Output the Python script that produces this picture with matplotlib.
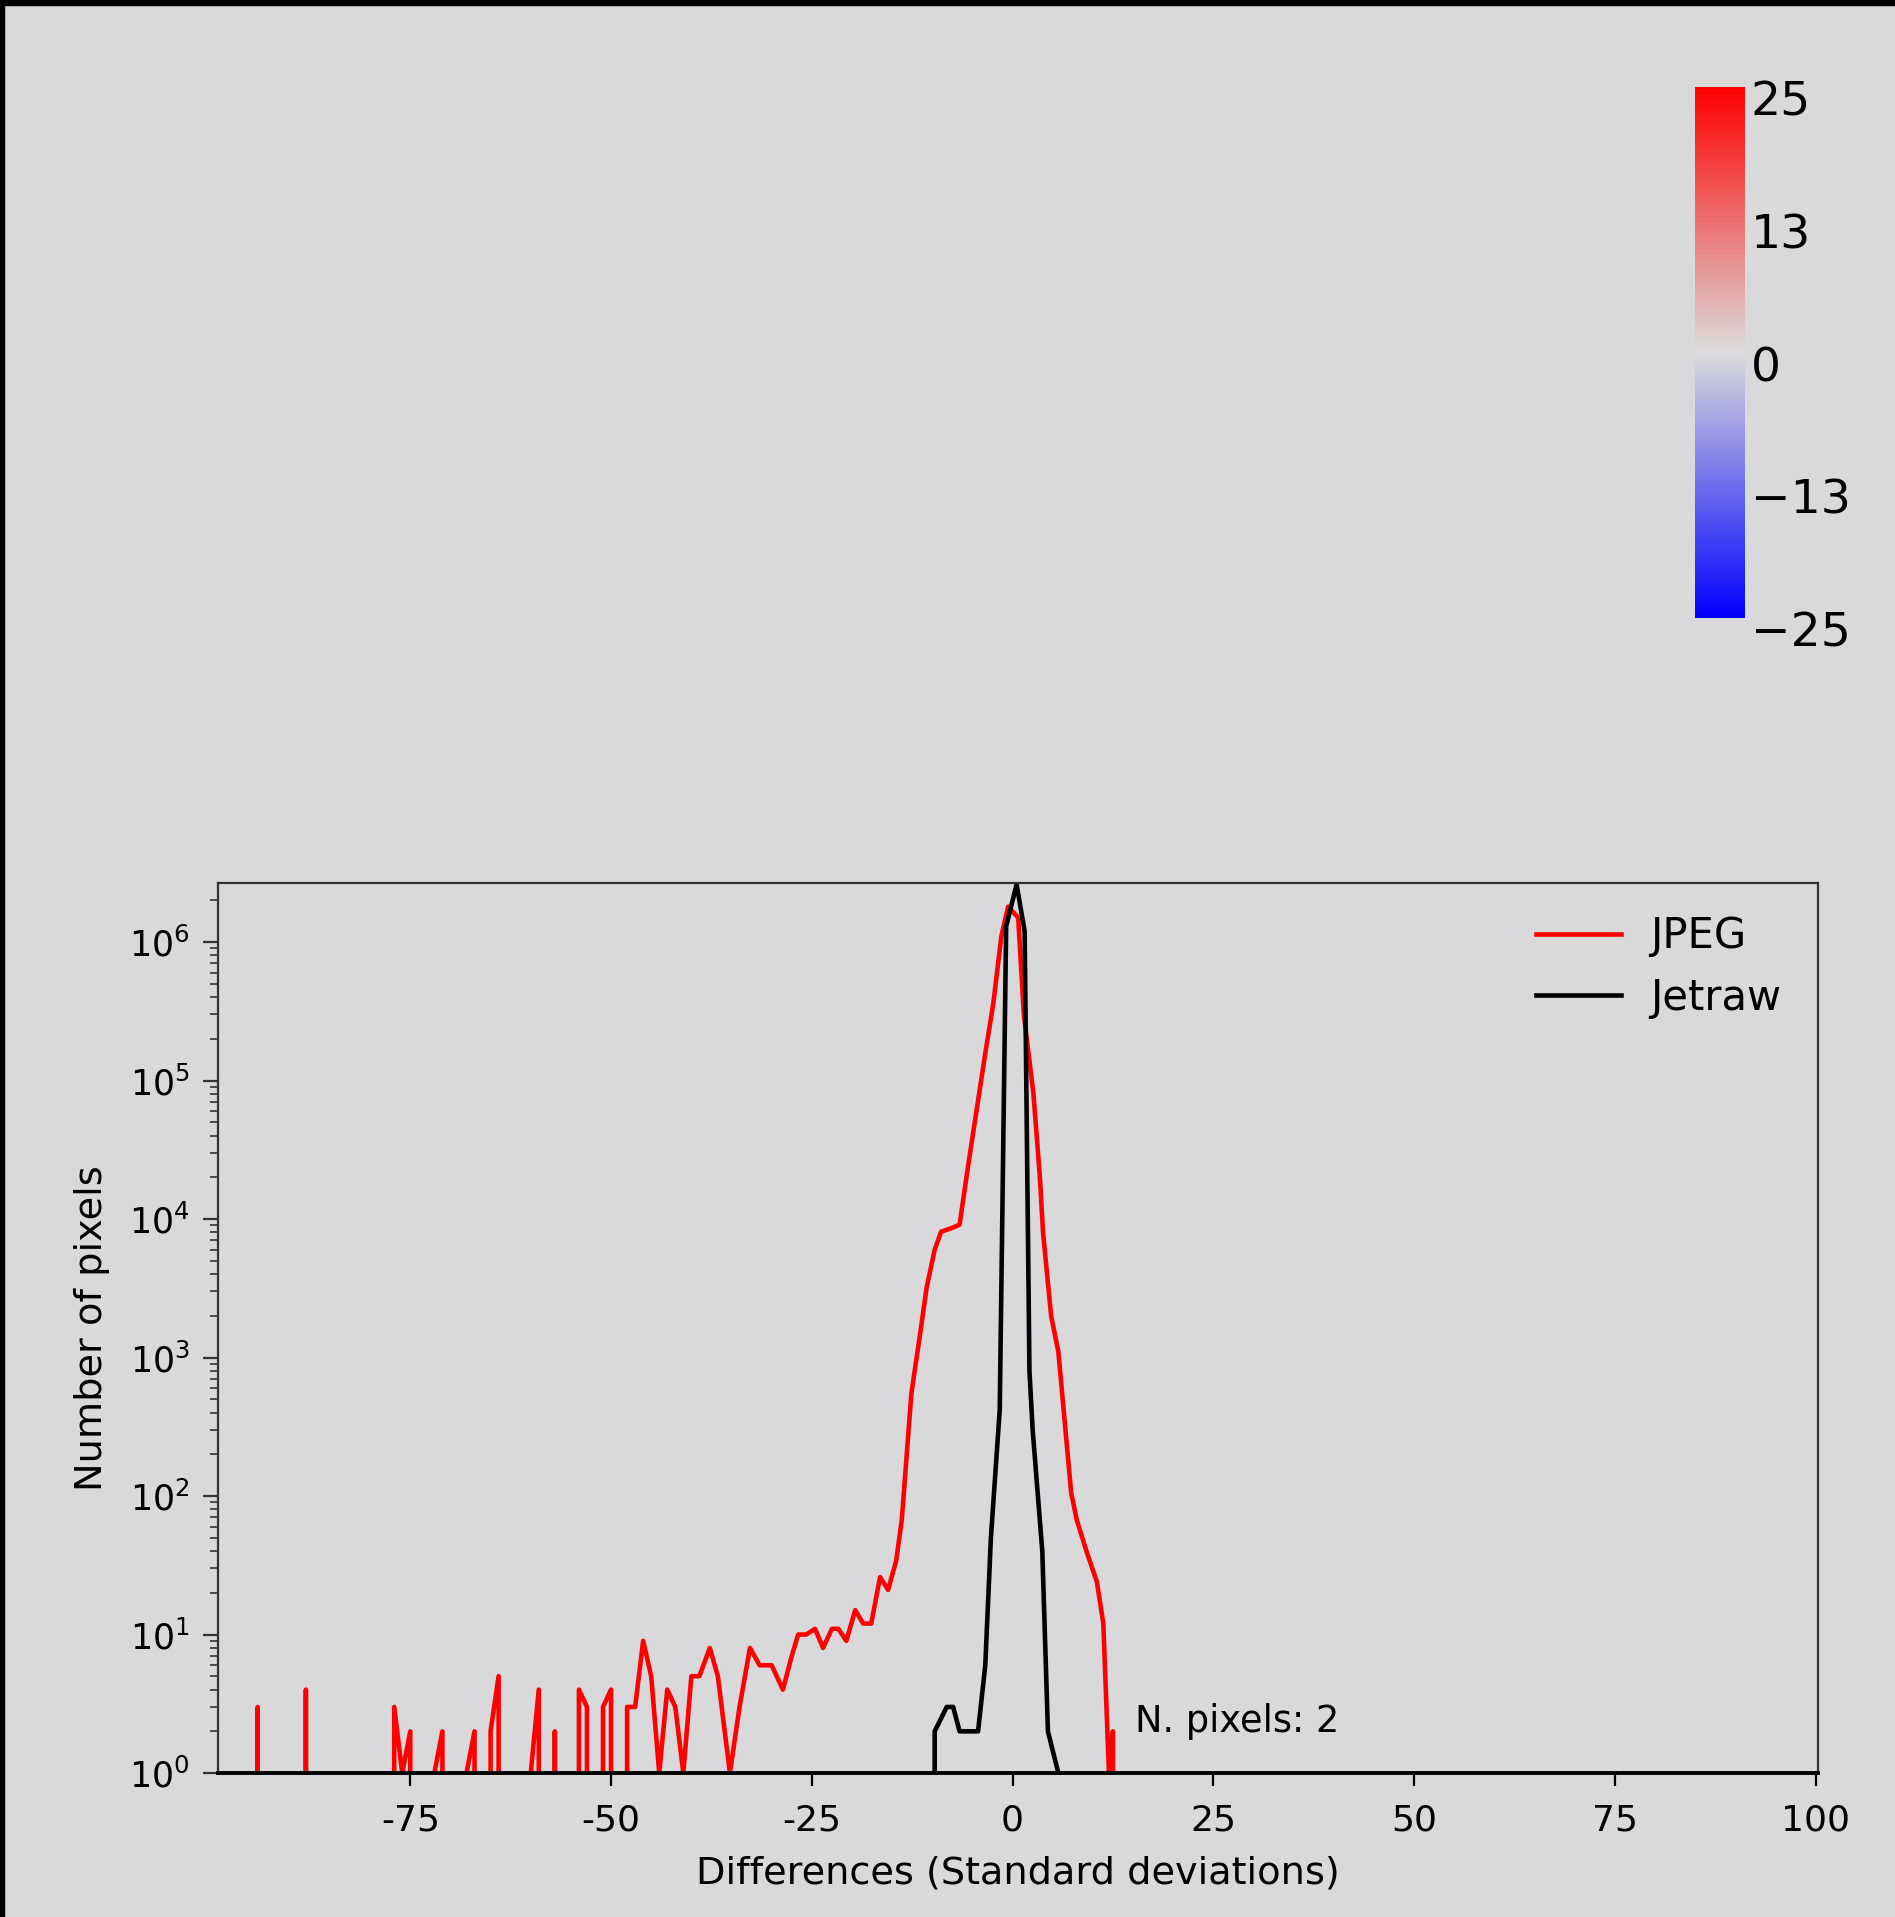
import matplotlib
matplotlib.use('Agg')
import matplotlib.pyplot as plt
import matplotlib.transforms as mtransforms
import numpy as np
from matplotlib.colors import LinearSegmentedColormap, Normalize
from matplotlib.cm import ScalarMappable
from matplotlib.patches import Rectangle

# histogram of differences (std devs) -> number of pixels
jpeg_x = [-99, -95, -94, -93, -89, -88, -87, -78, -77, -76, -75, -74,
          -73, -72, -71, -70, -69, -68, -67, -66, -65, -64, -63, -61,
          -60, -59, -58, -57, -56, -55, -54, -53, -52, -51, -50, -49,
          -48, -47, -46, -45, -44, -43, -42, -41, -40, -39, -37.7, -36.7,
          -35.2, -34, -32.7, -31.5, -30.0, -28.6, -27.5, -26.7, -25.7, -24.6,
          -23.6, -22.5, -21.7, -20.7, -19.6, -18.6, -17.6, -16.5, -15.5, -14.5,
          -13.8, -12.6, -11.5, -10.7, -9.7, -8.9, -7.6, -6.6, -5.5, -4.5,
          -3.4, -2.4, -1.4, -0.55, 0.7, 1.4, 2.6, 3.4, 3.8, 4.8,
          5.7, 7.3, 8.0, 9.2, 10.5, 11.3, 12.0, 12.5, 13.2, 100]
jpeg_n = [0, 0, 3, 0, 0, 4, 0, 0, 3, 1, 2, 0,
          0, 1, 2, 0, 0, 1, 2, 0, 2, 5, 0, 0,
          1, 4, 0, 2, 0, 0, 4, 3, 0, 3, 4, 0,
          3, 3, 9, 5, 1, 4, 3, 1, 5, 5, 8, 5,
          1, 3, 8, 6, 6, 4, 7, 10, 10, 11,
          8, 11, 11, 9, 15, 12, 12, 26, 21, 34,
          67, 550, 1500, 3200, 6000, 8100, 8600, 9100, 25000, 60000,
          157000, 360000, 1100000, 1800000, 1500000, 300000, 80000, 20000, 7900, 2000,
          1100, 105, 67, 40, 24, 12, 1, 2, 0, 0]

jetraw_x = [-99, -10.7, -9.7, -8.2, -7.4, -6.6, -4.3, -3.4, -2.7, -1.6,
            -0.8, 0.5, 1.5, 2.1, 2.5, 3.7, 4.4, 5.7, 6.7, 100]
jetraw_n = [0, 0, 2, 3, 3, 2, 2, 6, 50, 420,
            1300000, 2600000, 1200000, 800, 300, 40, 2, 1, 0, 0]

x_ticks = [-75, -50, -25, 0, 25, 50, 75, 100]
cbar_ticks = [-25, -12.5, 0, 12.5, 25]
cbar_labels = ['\u221225', '\u221213', '0', '13', '25']

plt.rcParams['font.family'] = 'DejaVu Sans'
plt.rcParams['axes.unicode_minus'] = False

BG = '#d9d8da'
fig = plt.figure(figsize=(18.95, 19.17), dpi=100, facecolor=BG)

ax = fig.add_axes([0.1148, 0.0751, 0.8446, 0.4643])
ax.set_facecolor(BG)
ax.plot(jpeg_x, jpeg_n, color='red', lw=3.3, label='JPEG')
ax.plot(jetraw_x, jetraw_n, color='black', lw=3.3, label='Jetraw')
ax.set_yscale('log', nonpositive='clip')
ax.set_xlim(-99, 100.3)
ax.set_ylim(1, 2.67e6)
ax.set_xticks(x_ticks)

for s in ['left', 'top', 'right']:
  ax.spines[s].set_color('#333333')
  ax.spines[s].set_linewidth(1.6)
ax.spines['bottom'].set_color('black')
ax.spines['bottom'].set_linewidth(2.8)

ax.tick_params(axis='y', which='major', length=11, width=1.6, pad=9, labelsize=25, color='#333333')
ax.tick_params(axis='y', which='minor', length=6, width=1.2, color='#333333')
ax.tick_params(axis='x', which='major', length=9, width=1.6, pad=13, labelsize=26)
ax.tick_params(axis='x', which='minor', length=0)

ax.set_xlabel('Differences (Standard deviations)', fontsize=27.5, labelpad=13)
ax.set_ylabel('Number of pixels', fontsize=27.5, labelpad=14)

ax.legend(loc='upper left', bbox_to_anchor=(0.8238, 0.9635), frameon=False, fontsize=30,
          handlelength=2.04, handletextpad=0.7, labelspacing=0.46, borderpad=0, borderaxespad=0)

ax.text(15.2, 2.36, 'N. pixels: 2', fontsize=26.5, va='center', ha='left')

# colour bar in the upper right
cmap = LinearSegmentedColormap.from_list('bgr', ['#0000ff', '#dcdcdc', '#ff0000'])
cax = fig.add_axes([0.8945, 0.6776, 0.0264, 0.277])
cb = fig.colorbar(ScalarMappable(norm=Normalize(-25, 25), cmap=cmap), cax=cax)
cb.set_ticks(cbar_ticks, labels=cbar_labels)
cb.outline.set_visible(False)
cax.tick_params(length=0, labelsize=34, pad=4)
shift = mtransforms.ScaledTranslation(0, -0.11, fig.dpi_scale_trans)
for t in cax.get_yticklabels():
  t.set_transform(t.get_transform() + shift)

# dark frame edges of the screenshot
fig.patches.append(Rectangle((0, 1 - 5 / 1917), 1, 5 / 1917, transform=fig.transFigure, color='black', zorder=10))
fig.patches.append(Rectangle((0, 0), 4 / 1895, 1, transform=fig.transFigure, color='black', zorder=10))

fig.savefig('out.png', dpi=100, facecolor=BG)
